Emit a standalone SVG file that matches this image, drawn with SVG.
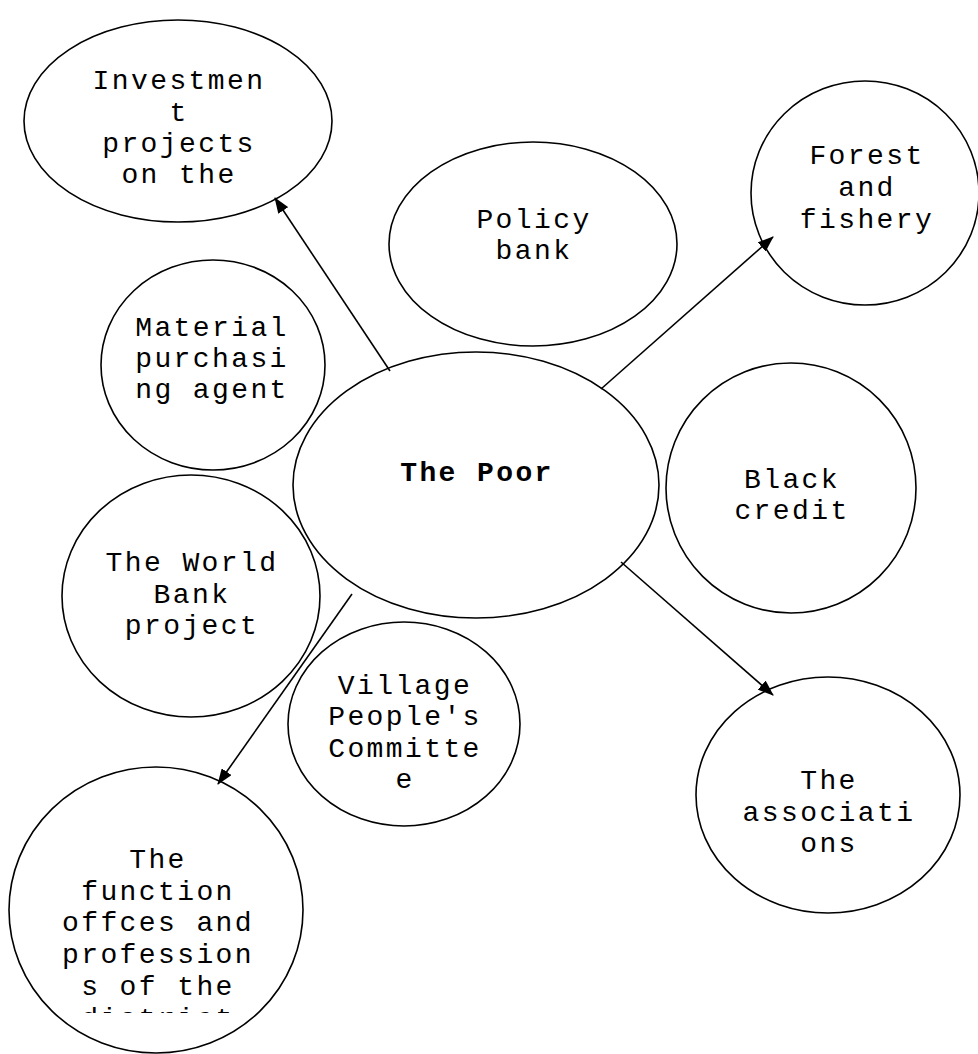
<svg xmlns="http://www.w3.org/2000/svg" width="978" height="1054" viewBox="0 0 978 1054">
<style>
.n{fill:none;stroke:#000;stroke-width:1.6}
.t{font-family:"Liberation Mono","Courier New",monospace;font-size:28px;letter-spacing:2.4px;fill:#000;text-anchor:middle}
.b{font-weight:bold}
.c{stroke:#000;stroke-width:1.6;fill:none;marker-end:url(#ah)}
</style>
<defs>
<marker id="ah" markerWidth="16" markerHeight="12" refX="15" refY="6" orient="auto" markerUnits="userSpaceOnUse">
<path d="M0,0 L16,6 L0,12 Z" fill="#000"/>
</marker>
<clipPath id="clipF"><rect x="0" y="760" width="320" height="253"/></clipPath>
</defs>
<rect width="978" height="1054" fill="#fff"/>
<g id="investment">
<ellipse class="n" cx="178" cy="121" rx="154" ry="101"/>
<text class="t" x="179" y="89">Investmen</text>
<text class="t" x="179" y="121">t</text>
<text class="t" x="179" y="152">projects</text>
<text class="t" x="179" y="183">on the</text>
</g>
<g id="policy">
<ellipse class="n" cx="533" cy="244" rx="144" ry="102"/>
<text class="t" x="534" y="228">Policy</text>
<text class="t" x="534" y="259">bank</text>
</g>
<g id="forest">
<ellipse class="n" cx="865" cy="193" rx="114" ry="112"/>
<text class="t" x="867" y="164">Forest</text>
<text class="t" x="867" y="196">and</text>
<text class="t" x="867" y="228">fishery</text>
</g>
<g id="material">
<ellipse class="n" cx="213" cy="365" rx="112" ry="105"/>
<text class="t" x="212" y="336">Material</text>
<text class="t" x="212" y="367">purchasi</text>
<text class="t" x="212" y="398">ng agent</text>
</g>
<g id="poor">
<ellipse class="n" cx="476" cy="485" rx="183" ry="133"/>
<text class="t b" x="477" y="481">The Poor</text>
</g>
<g id="black">
<ellipse class="n" cx="791" cy="488" rx="125" ry="125"/>
<text class="t" x="792" y="488">Black</text>
<text class="t" x="792" y="519">credit</text>
</g>
<g id="worldbank">
<ellipse class="n" cx="191" cy="596" rx="129" ry="121"/>
<text class="t" x="192" y="571">The World</text>
<text class="t" x="192" y="603">Bank</text>
<text class="t" x="192" y="634">project</text>
</g>
<g id="village">
<ellipse class="n" cx="404" cy="724" rx="116" ry="102"/>
<text class="t" x="405" y="694">Village</text>
<text class="t" x="405" y="725">People's</text>
<text class="t" x="405" y="757">Committe</text>
<text class="t" x="405" y="788">e</text>
</g>
<g id="associations">
<ellipse class="n" cx="828" cy="795" rx="132" ry="118"/>
<text class="t" x="829" y="789">The</text>
<text class="t" x="829" y="821">associati</text>
<text class="t" x="829" y="852">ons</text>
</g>
<g id="function">
<ellipse class="n" cx="156" cy="910" rx="147" ry="143"/>
<g clip-path="url(#clipF)">
<text class="t" x="158" y="868">The</text>
<text class="t" x="158" y="900">function</text>
<text class="t" x="158" y="931">offces and</text>
<text class="t" x="158" y="963">profession</text>
<text class="t" x="158" y="995">s of the</text>
<text class="t" x="158" y="1027">district</text>
</g>
</g>
<g id="connectors">
<line class="c" x1="390" y1="371" x2="275" y2="198"/>
<line class="c" x1="601" y1="389" x2="773" y2="237"/>
<line class="c" x1="621" y1="562" x2="773" y2="695"/>
<line class="c" x1="352" y1="594" x2="218" y2="784"/>
</g>
</svg>
